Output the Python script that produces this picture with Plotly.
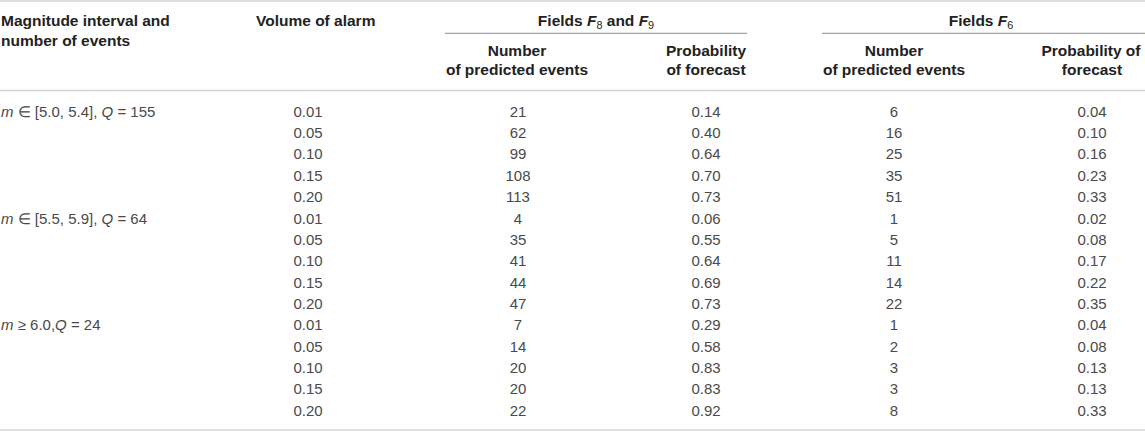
import plotly.graph_objects as go

# table values
groups = ["<i>m</i> ∈ [5.0, 5.4], <i>Q</i> = 155",
          "<i>m</i> ∈ [5.5, 5.9], <i>Q</i> = 64",
          "<i>m</i> ≥ 6.0,<i>Q</i> = 24"]
alarm = ["0.01", "0.05", "0.10", "0.15", "0.20"]
f89_events = [21, 62, 99, 108, 113, 4, 35, 41, 44, 47, 7, 14, 20, 20, 22]
f89_prob = ["0.14", "0.40", "0.64", "0.70", "0.73",
            "0.06", "0.55", "0.64", "0.69", "0.73",
            "0.29", "0.58", "0.83", "0.83", "0.92"]
f6_events = [6, 16, 25, 35, 51, 1, 5, 11, 14, 22, 1, 2, 3, 3, 8]
f6_prob = ["0.04", "0.10", "0.16", "0.23", "0.33",
           "0.02", "0.08", "0.17", "0.22", "0.35",
           "0.04", "0.08", "0.13", "0.13", "0.33"]

W, H = 1145, 431
ROW0, ROW_H = 113, 21.36
HEAD_FONT = dict(family="Liberation Sans", size=15.5, color="#222222")
BODY_FONT = dict(family="Liberation Sans", size=15, color="#4a4a4a")

n_rows = len(f89_events)
row_y = [ROW0 + i * ROW_H for i in range(n_rows)]

fig = go.Figure()


def text_col(x, y, texts, pos="middle center", font=BODY_FONT):
    fig.add_trace(go.Scatter(
        x=[x] * len(texts), y=y, text=texts, mode="text",
        textposition=pos, textfont=font, hoverinfo="skip", showlegend=False
    ))


# body
text_col(1, [row_y[i * len(alarm)] for i in range(len(groups))], groups, pos="middle right")
text_col(308, row_y, alarm * len(groups))
text_col(518, row_y, [str(v) for v in f89_events])
text_col(706, row_y, f89_prob)
text_col(894, row_y, [str(v) for v in f6_events])
text_col(1092, row_y, f6_prob)

# header
heads = [
    (1, 22, "<b>Magnitude interval and</b>", "middle right"),
    (1, 42.5, "<b>number of events</b>", "middle right"),
    (256, 22, "<b>Volume of alarm</b>", "middle right"),
    (596, 22, "<b>Fields <i>F</i></b><sub>8</sub><b> and <i>F</i></b><sub>9</sub>", "middle center"),
    (517, 52, "<b>Number</b>", "middle center"),
    (517, 71.5, "<b>of predicted events</b>", "middle center"),
    (706, 52, "<b>Probability</b>", "middle center"),
    (706, 71.5, "<b>of forecast</b>", "middle center"),
    (981, 22, "<b>Fields <i>F</i></b><sub>6</sub>", "middle center"),
    (894, 52, "<b>Number</b>", "middle center"),
    (894, 71.5, "<b>of predicted events</b>", "middle center"),
    (1091, 52, "<b>Probability of</b>", "middle center"),
    (1092, 71.5, "<b>forecast</b>", "middle center"),
]
for hx, hy, ht, hp in heads:
    text_col(hx, [hy], [ht], pos=hp, font=HEAD_FONT)

# rules
rules = [
    (0, W, 1, "#d4d4d4", 1.5),
    (0, W, 90.5, "#d4d4d4", 1.5),
    (0, W, 430, "#d4d4d4", 1.5),
    (445, 747, 33.3, "#8c8c8c", 1),
    (822, W, 33.3, "#8c8c8c", 1),
]
for x0, x1, yy, col, lw in rules:
    fig.add_shape(type="line", x0=x0, x1=x1, y0=yy, y1=yy, xref="x", yref="y",
                  line=dict(color=col, width=lw))

fig.update_layout(
    width=W, height=H,
    margin=dict(l=0, r=0, t=0, b=0),
    paper_bgcolor="white", plot_bgcolor="white",
    xaxis=dict(range=[0, W], visible=False, fixedrange=True),
    yaxis=dict(range=[H, 0], visible=False, fixedrange=True),
    hovermode=False,
)

# drop the default page margin so the figure sits at the window corner
fig.write_html("out.html", config={"displayModeBar": False},
               post_script="document.body.style.margin='0';document.body.style.overflow='hidden';")
